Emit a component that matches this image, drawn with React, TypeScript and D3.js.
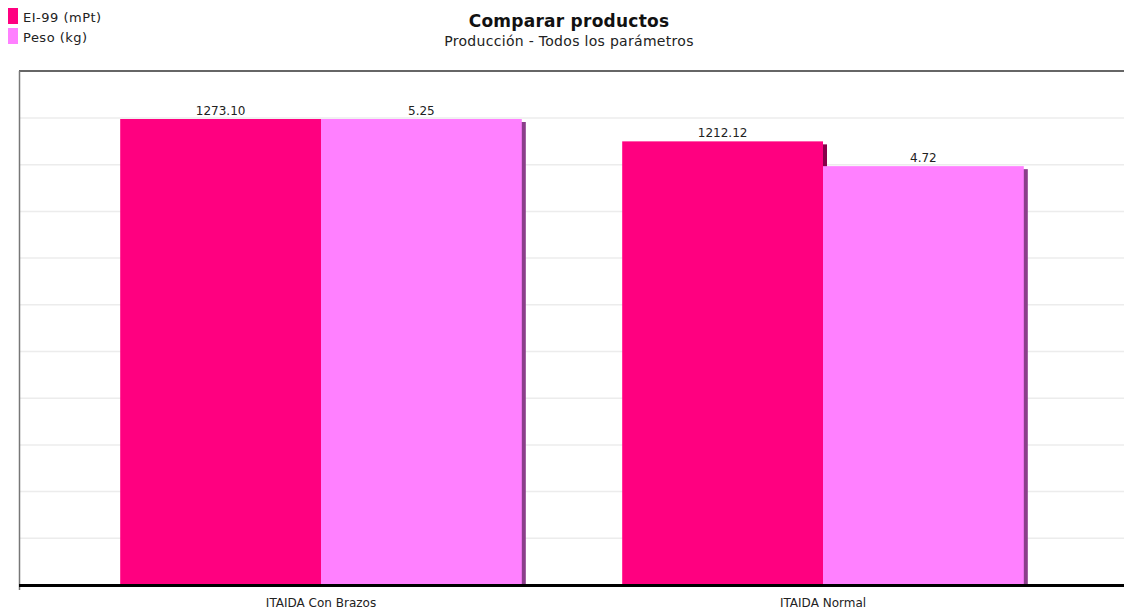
import React from "react";
import * as d3 from "d3";

const categories = ["ITAIDA Con Brazos", "ITAIDA Normal"];
const seriesNames = ["EI-99 (mPt)", "Peso (kg)"];
const ei99Values = [1273.1, 1212.12];
const pesoValues = [5.25, 4.72];
const seriesColors = ["#FF0080", "#FF80FF"];
const shadowColors = ["#88004A", "#8A3E8A"];
const gridTicks = d3.range(0, 101, 10);

const W = 1124;
const H = 612;
const left = 19;
const top = 71;
const base = 586;

export default function App() {
  const seriesValues = [ei99Values, pesoValues];
  const maxes = seriesValues.map((s) => d3.max(s) as number);
  const y = d3.scaleLinear().domain([0, 100]).range([base, 119]);
  const x0 = d3.scaleBand<string>().domain(categories).range([70, 1074]).padding(0);
  const bw = x0.bandwidth();
  const x1 = d3.scaleBand<string>().domain(seriesNames).range([bw * 0.1, bw * 0.9]).padding(0);
  const font = "'DejaVu Sans', Verdana, sans-serif";

  return (
    <svg width={W} height={H} style={{ position: "absolute", left: 0, top: 0, background: "#fff" }} fontFamily={font}>
      {/* legend */}
      {seriesNames.map((s, i) => (
        <g key={s}>
          <rect x={8} y={8 + i * 20} width={10} height={16} fill={seriesColors[i]} />
          <text x={23} y={22 + i * 20} fontSize={13} letterSpacing={0.5} fill="#222">{s}</text>
        </g>
      ))}
      {/* title */}
      <text x={569} y={27} textAnchor="middle" fontSize={17} letterSpacing={0.25} fontWeight="bold" fill="#111">Comparar productos</text>
      <text x={569} y={46} textAnchor="middle" fontSize={14} letterSpacing={0.3} fill="#222">Producción - Todos los parámetros</text>

      {/* grid */}
      {gridTicks.slice(1).map((t) => (
        <line key={t} x1={left} x2={W} y1={y(t) - 1} y2={y(t) - 1} stroke="#ececec" strokeWidth={1.5} />
      ))}
      {/* frame */}
      <line x1={left} x2={W} y1={top} y2={top} stroke="#333" strokeWidth={1.5} />
      <line x1={left + 0.5} x2={left + 0.5} y1={top} y2={590} stroke="#777" strokeWidth={1.5} />

      {/* bars */}
      {categories.map((c, ci) => (
        <g key={c} transform={`translate(${x0(c)},0)`}>
          {seriesNames.map((s, si) => {
            const pct = (seriesValues[si][ci] / maxes[si]) * 100;
            const bx = x1(s) as number;
            return (
              <rect key={"sh" + s} x={bx + 4} y={y(pct) + 3} width={x1.bandwidth()} height={base - y(pct) - 3} fill={shadowColors[si]} />
            );
          })}
          {seriesNames.map((s, si) => {
            const pct = (seriesValues[si][ci] / maxes[si]) * 100;
            const bx = x1(s) as number;
            return (
              <g key={s}>
                <rect x={bx} y={y(pct)} width={x1.bandwidth()} height={base - y(pct)} fill={seriesColors[si]} />
                <text x={bx + x1.bandwidth() / 2} y={y(pct) - 4} textAnchor="middle" fontSize={12} fill="#222">
                  {seriesValues[si][ci].toFixed(2)}
                </text>
              </g>
            );
          })}
          <text x={bw / 2} y={607} textAnchor="middle" fontSize={12} fill="#222">{c}</text>
        </g>
      ))}

      {/* baseline */}
      <rect x={left} y={584} width={W - left} height={3} fill="#000" />
    </svg>
  );
}
